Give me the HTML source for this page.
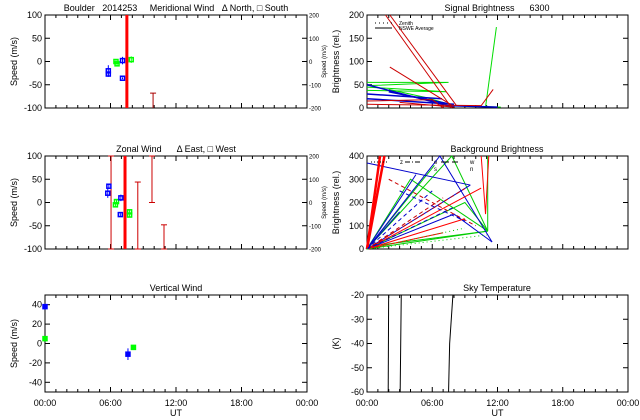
<!DOCTYPE html>
<html><head><meta charset="utf-8"><style>
body{margin:0;background:#fff;}
svg{display:block;font-family:"Liberation Sans",sans-serif;}
text{font-size:9px;fill:#000;white-space:pre;}
</style></head><body>
<svg id="c" width="640" height="420" viewBox="0 0 640 420" xml:space="preserve"></svg>
<script>
// ---- data ----
const xTickLabels=["00:00","06:00","12:00","18:00","00:00"];
const merTicks=[100,50,0,-50,-100];
const merRightTicks=["200","100","0","-100","-200"];
const vertTicks=[40,20,0,-20,-40];
const sigTicks=[200,150,100,50,0];
const bgTicks=[400,300,200,100,0];
const tempTicks=[-20,-30,-40,-50,-60];
const merTimes=[5.8,5.8,6.5,6.6,7.1,7.1,7.9];
const merVals=[-20,-27,0,-5,2,-36,4];
const merErrs=[12,6,5,5,8,2,7];
const merColors=["#0000ff","#0000ff","#00ff00","#00ff00","#0000ff","#0000ff","#00ff00"];
const merThickT=[7.5];
const merBarT=[9.9]; const merBarTop=[-68];
const zonTimes=[5.75,5.85,6.45,6.55,6.95,6.9,7.75,7.75];
const zonVals=[20,35,-5,2,10,-26,-20,-27];
const zonErrs=[10,5,5,5,7,3,4,4];
const zonColors=["#0000ff","#0000ff","#00ff00","#00ff00","#0000ff","#0000ff","#00ff00","#00ff00"];
const zonThickT=[7.33];
const zonBarT=[6.05,8.5,9.8,10.9]; const zonBarBot=[-100,-100,0,-100]; const zonBarTop=[100,44,100,-48];
const vertTimes=[0.0,0.0,7.6,8.1];
const vertVals=[38,5,-11,-4];
const vertErrs=[3,1,6,2];
const vertColors=["#0000ff","#00ff00","#0000ff","#00ff00"];
const tempLinesT0=[1.95,3.05,7.5];
const tempLinesT1=[1.97,3.1,7.6];
const tempLinesT2=[1.99,3.15,7.9];
const sigRed=[[1.7,200,7.8,0],[2.1,200,8.2,6],[2.1,88,7.8,6],[0,15,6,18,7,0],[0,8,10.5,5,11.6,40],[3,12,8,2]];
const sigGreen=[[11.9,174,10.9,2],[0,55,7.5,55,0,48],[0,45,7.3,35,0,38],[2,40,5.5,22,8,5,12.3,2]];
const sigBlue=[[0,50,7.4,5,12,2],[0,30,6.9,20],[0,20,8,8],[2,35,7.3,10]];
const bgRed=[[0,0,10.5,262],[10.5,400,10.9,150,11.2,400],[0,0,9,130],[0,0,7,70]];
const bgGreen=[[0,0,7.8,400,11.1,77],[11.1,400,11.1,77],[0,0,11.1,77],[0,0,6.2,360],[0,0,4,300,11.1,77],[0,0,9,200,11.1,77],[0,10,11.1,77]];
const bgBlue=[[0,0,6.7,400,11.5,30],[0,370,9.5,275],[0,0,9.5,275],[0,0,4.5,320],[0,0,8,150,11.5,30],[0,0,3,160]];
// ---- drawing ----
const svg=document.getElementById('c');const NS="http://www.w3.org/2000/svg";
function el(tag,attrs,parent,txt){const e=document.createElementNS(NS,tag);for(const k in attrs)e.setAttribute(k,attrs[k]);if(txt!==undefined)e.textContent=txt;(parent||svg).appendChild(e);return e;}
function panel(name,x0,x1,y0,y1,vmin,vmax,title,tx,yt,ylab,showX){
 const g=el('g',{});
 const X=t=>x0+t/24*(x1-x0);const Y=v=>y1-(v-vmin)/(vmax-vmin)*(y1-y0);
 el('rect',{x:x0,y:y0,width:x1-x0,height:y1-y0,fill:'none',stroke:'#000','stroke-width':1},g);
 for(let h=0;h<=24;h++){const L=h%6==0?5:3;el('line',{x1:X(h),x2:X(h),y1:y1,y2:y1-L,stroke:'#000'},g);el('line',{x1:X(h),x2:X(h),y1:y0,y2:y0+L,stroke:'#000'},g);}
 yt.forEach(v=>{el('line',{x1:x0,x2:x0+5,y1:Y(v),y2:Y(v),stroke:'#000'},g);el('line',{x1:x1,x2:x1-5,y1:Y(v),y2:Y(v),stroke:'#000'},g);
  const t=el('text',{x:x0-3,y:Y(v)+3,'text-anchor':'end'},g,String(v));});
 const tt=el('text',{x:tx,y:y0-4,'text-anchor':'middle'},g,title);
 const yl=el('text',{x:0,y:0,'text-anchor':'middle',transform:`translate(${x0-28},${(y0+y1)/2}) rotate(-90)`},g,ylab);
 if(showX){xTickLabels.forEach((l,i)=>{const t=el('text',{x:X(i*6),y:y1+14,'text-anchor':'middle'},g,l);});
  const u=el('text',{x:(x0+x1)/2,y:y1+24,'text-anchor':'middle'},g,'UT');}
 return {g,X,Y};
}
function rightAxis(p,x1,y0,y1){merRightTicks.forEach((l,i)=>{const y=y0+i*(y1-y0)/4;const t=el('text',{x:x1+2,y:y+2.5,style:'font-size:6px'},p.g,l);});
 const t=el('text',{x:0,y:0,style:'font-size:6px','text-anchor':'middle',transform:`translate(${x1+19},${(y0+y1)/2}) rotate(-90)`},p.g,'Speed (m/s)');}
function points(p,T,V,E,C,sq,sz){const s=sz||5;T.forEach((t,i)=>{const x=p.X(t),y=p.Y(V[i]);
 const e=el('line',{x1:x,x2:x,y1:p.Y(V[i]-E[i]),y2:p.Y(V[i]+E[i]),stroke:C[i],'stroke-width':1},p.g);
 const m=el('rect',{x:x-s/2,y:y-s/2,width:s,height:s,fill:sq?'none':C[i],stroke:C[i],'stroke-width':1.5},p.g);});}
function lines(p,arr,col,w,dash){arr.forEach(a=>{let d='';for(let i=0;i<a.length;i+=2)d+=(i?'L':'M')+p.X(a[i])+','+p.Y(a[i+1]);
 const l=el('path',{d,fill:'none',stroke:col,'stroke-width':w||1,'stroke-dasharray':dash||'none'},p.g);});}
const pm=panel('meridional-wind-panel',45,307,15,108,-100,100,'Boulder   2014253     Meridional Wind   \u0394 North, \u25A1 South',176,merTicks,'Speed (m/s)',false);
rightAxis(pm,307,15,108);
merThickT.forEach(t=>{const l=el('line',{x1:pm.X(t),x2:pm.X(t),y1:15,y2:108,stroke:'#ff0000','stroke-width':3},pm.g);});
merBarT.forEach((t,i)=>{lines(pm,[[t,-100,t,merBarTop[i]]],'#aa0000',1);el('line',{x1:pm.X(t)-3,x2:pm.X(t)+3,y1:pm.Y(merBarTop[i]),y2:pm.Y(merBarTop[i]),stroke:'#aa0000'},pm.g);});
points(pm,merTimes,merVals,merErrs,merColors,true,4);
const pz=panel('zonal-wind-panel',45,307,156,249,-100,100,'Zonal Wind      \u0394 East, \u25A1 West',176,merTicks,'Speed (m/s)',false);
rightAxis(pz,307,156,249);
zonThickT.forEach(t=>{const l=el('line',{x1:pz.X(t),x2:pz.X(t),y1:156,y2:249,stroke:'#ff0000','stroke-width':3},pz.g);});
zonBarT.forEach((t,i)=>{lines(pz,[[t,zonBarBot[i],t,zonBarTop[i]]],'#cc0000',1);el('line',{x1:pz.X(t)-3,x2:pz.X(t)+3,y1:pz.Y(zonBarTop[i]),y2:pz.Y(zonBarTop[i]),stroke:'#cc0000'},pz.g);el('line',{x1:pz.X(t)-3,x2:pz.X(t)+3,y1:pz.Y(zonBarBot[i]),y2:pz.Y(zonBarBot[i]),stroke:'#cc0000'},pz.g);});
points(pz,zonTimes,zonVals,zonErrs,zonColors,true,4);
const pv=panel('vertical-wind-panel',45,307,295,392,-50,50,'Vertical Wind',176,vertTicks,'Speed (m/s)',true);
points(pv,vertTimes,vertVals,vertErrs,vertColors,false,4);
const ps=panel('signal-brightness-panel',367,628,15,108,0,200,'Signal Brightness      6300',497,sigTicks,'Brightness (rel.)',false);
lines(ps,sigGreen,'#00dd00',1);lines(ps,sigBlue,'#0000cc',1.5);lines(ps,sigRed,'#cc0000',1);
el('line',{x1:375,x2:392,y1:23,y2:23,stroke:'#000','stroke-dasharray':'1,3'},ps.g);
el('line',{x1:375,x2:392,y1:28,y2:28,stroke:'#000'},ps.g);
let lt=el('text',{x:399,y:25,style:'font-size:5px'},ps.g,'Zenith');
lt=el('text',{x:399,y:30,style:'font-size:5px'},ps.g,'NSWE Average');
const pb=panel('background-brightness-panel',367,628,156,249,0,400,'Background Brightness',497,bgTicks,'Brightness (rel.)',false);
lines(pb,bgGreen,'#00cc00',1);lines(pb,bgBlue,'#0000cc',1);lines(pb,bgRed,'#ff0000',1);
lines(pb,[[0,0,1.2,400],[0,0,1.6,400]],'#ff0000',2.5);
lines(pb,[[0,0,9,260],[0,0,7,220],[2,300,10,100]],'#cc0000',1,'4,3');
lines(pb,[[0,0,6,250],[0,0,8,180],[3,250,9,120]],'#0000cc',1,'4,3');
lines(pb,[[0,0,11,60],[0,0,9,90]],'#00cc00',1,'1,3');
[['z',371,387,400,'1,2'],['e',405,420,434,'5,2,1,2'],['w',441,458,470,'8,3']].forEach(a=>{el('line',{x1:a[1],x2:a[2],y1:162,y2:162,stroke:'#000','stroke-dasharray':a[4]},pb.g);const t=el('text',{x:a[3],y:164,style:'font-size:6px'},pb.g,a[0]);});
[['s',434],['n',470]].forEach(a=>{const t=el('text',{x:a[1],y:171,style:'font-size:6px'},pb.g,a[0]);});
const pt=panel('sky-temperature-panel',367,628,295,392,-60,-20,'Sky Temperature',497,tempTicks,'(K)',true);
tempLinesT0.forEach((t,i)=>lines(pt,[[t,-60,tempLinesT1[i],-40,tempLinesT2[i],-20]],'#000',1));
</script>
</body></html>
